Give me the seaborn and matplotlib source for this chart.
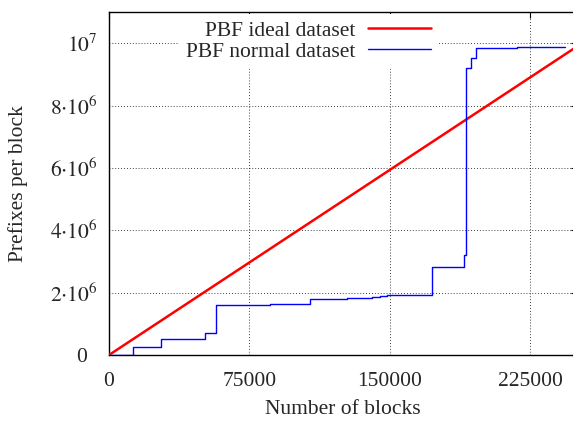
import numpy as np
import pandas as pd
import matplotlib
matplotlib.use("Agg")
import matplotlib.pyplot as plt
import matplotlib.transforms as mtransforms
import seaborn as sns

# Data
ideal_x = [0, 250000]
ideal_y = [0, 9.9e6]

normal_x = [0, 12600, 28000, 51500, 57300, 85900, 107300, 126900, 140200,
            144600, 148200, 172600, 189300, 190600, 193100, 196000, 217600, 243500]
normal_y = [0, 0.26e6, 0.52e6, 0.71e6, 1.60e6, 1.64e6, 1.80e6, 1.82e6, 1.86e6,
            1.88e6, 1.91e6, 2.83e6, 3.20e6, 9.22e6, 9.54e6, 9.83e6, 9.87e6, 9.88e6]

xticks = [0, 75000, 150000, 225000]
xtick_labels = ["0", "75000", "150000", "225000"]
yticks = [0, 2e6, 4e6, 6e6, 8e6, 1e7]
ytick_labels = ["0", r"$2{\cdot}10^{6}$", r"$4{\cdot}10^{6}$",
                r"$6{\cdot}10^{6}$", r"$8{\cdot}10^{6}$", r"$10^{7}$"]

sns.set_style("white")
plt.rcParams["font.family"] = ["Liberation Serif", "DejaVu Serif"]
plt.rcParams["mathtext.fontset"] = "stix"
FS = 15.5

fig = plt.figure(figsize=(5.73, 4.21), dpi=100)
ax = fig.add_axes([109/573, 1 - 355/421, (577.3 - 109)/573, (355 - 12)/421])

df_ideal = pd.DataFrame({"x": ideal_x, "y": ideal_y})
df_norm = pd.DataFrame({"x": normal_x, "y": normal_y})

sns.lineplot(data=df_ideal, x="x", y="y", ax=ax, color="#ff0000", linewidth=1.8,
             label="PBF ideal dataset", zorder=3)
sns.lineplot(data=df_norm, x="x", y="y", ax=ax, color="#0000ff", linewidth=1.0,
             drawstyle="steps-post", label="PBF normal dataset", zorder=3)

ax.set_xlim(0, 250000)
ax.set_ylim(0, 1.1e7)
ax.set_xticks(xticks)
ax.set_xticklabels(xtick_labels, fontsize=FS)
ax.set_yticks(yticks)
ax.set_yticklabels(ytick_labels, fontsize=FS)
ax.tick_params(direction="in", length=4, width=0.8, color="black", top=True,
               right=True)
ax.tick_params(axis="x", pad=12)
ax.tick_params(axis="y", pad=8)
ax.grid(True, linestyle=(0, (1, 2.5)), color="black", linewidth=0.6)
for s in ax.spines.values():
    s.set_color("black")
    s.set_linewidth(1.0)

ax.set_xlabel("Number of blocks", fontsize=FS, labelpad=7)
ax.set_ylabel("Prefixes per block", fontsize=FS, labelpad=16)

leg = ax.legend(loc="upper right", bbox_to_anchor=(437/573, 1 - 14/421),
                bbox_transform=fig.transFigure, markerfirst=False,
                frameon=True, fontsize=FS, handlelength=2.9, handletextpad=0.6,
                labelspacing=0.05, borderpad=0.3, borderaxespad=0)
leg.get_frame().set_facecolor("white")
leg.get_frame().set_edgecolor("white")
leg.get_frame().set_alpha(1.0)
leg.get_frame().set_linewidth(0)
leg.set_zorder(2.5)

# gnuplot aligns the plain "0" without superscript room: shift it left
zero_lbl = ax.yaxis.get_major_ticks()[0].label1
zero_lbl.set_transform(zero_lbl.get_transform() +
                       mtransforms.ScaledTranslation(-0.11, 0, fig.dpi_scale_trans))

fig.savefig("out.png", dpi=100)
